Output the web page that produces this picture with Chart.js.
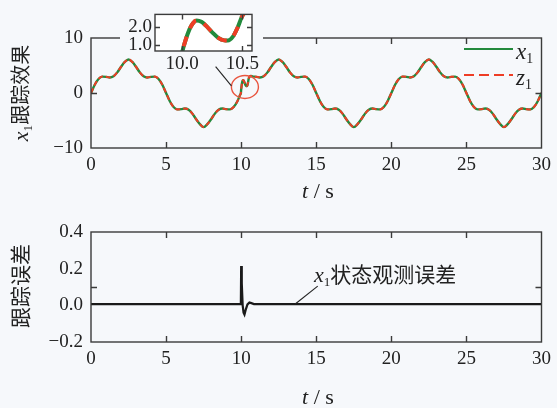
<!DOCTYPE html>
<html>
<head>
<meta charset="utf-8">
<script src="https://cdn.jsdelivr.net/npm/chart.js@4.4.1/dist/chart.umd.min.js"></script>
<style>
  body { margin: 0; background: #f6f8fb; }
  #wrap { position: relative; width: 557px; height: 408px; background: #f6f8fb; font-family: "Liberation Serif", serif; color: #222; overflow: hidden; }
  canvas { position: absolute; }
  .lbl { position: absolute; white-space: nowrap; line-height: 1; }
  .cjk { font-family: "Noto Sans CJK SC", sans-serif; }
  sub { font-size: 60%; vertical-align: -0.3em; line-height: 0; }
  .ytitle { transform: translate(-50%, -50%) rotate(-90deg); }
  .center { transform: translate(-50%, -50%); }
</style>
</head>
<body>
<div id="wrap">
  <canvas id="topChart" width="557" height="200" style="left:0;top:0"></canvas>
  <canvas id="bottomChart" width="557" height="208" style="left:0;top:200px"></canvas>
  <canvas id="insetChart" width="143" height="72" style="left:120px;top:0"></canvas>

  <div class="lbl ytitle" style="left:21px;top:93px;font-size:22px"><i>x</i><sub>1</sub><span class="cjk" style="font-size:20px">跟踪效果</span></div>
  <div class="lbl center" style="left:318px;top:191px;font-size:22px"><i>t</i> / s</div>
  <div class="lbl" style="left:516px;top:40px;font-size:23px"><i>x</i><sub>1</sub></div>
  <div class="lbl" style="left:516px;top:66px;font-size:23px"><i>z</i><sub>1</sub></div>

  <div class="lbl ytitle cjk" style="left:19px;top:286px;font-size:21px">跟踪误差</div>
  <div class="lbl center" style="left:318px;top:397px;font-size:22px"><i>t</i> / s</div>
  <div class="lbl" style="left:314px;top:263px;font-size:22px"><i>x</i><sub>1</sub><span class="cjk" style="font-size:21px">状态观测误差</span></div>
</div>

<script>
// time axis (s), finer around the disturbance at t = 10 s
const tTop = [
  0, 0.25, 0.5, 0.75, 1, 1.25, 1.5, 1.75, 2, 2.25, 2.5, 2.75, 3, 3.25, 3.5, 3.75, 4, 4.25, 4.5, 4.75,
  5, 5.25, 5.5, 5.75, 6, 6.25, 6.5, 6.75, 7, 7.25, 7.5, 7.75, 8, 8.25, 8.5, 8.75, 9, 9.25, 9.5, 9.75,
  9.95, 9.98, 10, 10.03, 10.06, 10.09, 10.12, 10.16, 10.2, 10.25, 10.3, 10.35, 10.38, 10.42, 10.46, 10.5, 10.55, 10.65, 10.75, 11,
  11.25, 11.5, 11.75, 12, 12.25, 12.5, 12.75, 13, 13.25, 13.5, 13.75, 14, 14.25, 14.5, 14.75,
  15, 15.25, 15.5, 15.75, 16, 16.25, 16.5, 16.75, 17, 17.25, 17.5, 17.75, 18, 18.25, 18.5, 18.75, 19, 19.25, 19.5, 19.75,
  20, 20.25, 20.5, 20.75, 21, 21.25, 21.5, 21.75, 22, 22.25, 22.5, 22.75, 23, 23.25, 23.5, 23.75, 24, 24.25, 24.5, 24.75,
  25, 25.25, 25.5, 25.75, 26, 26.25, 26.5, 26.75, 27, 27.25, 27.5, 27.75, 28, 28.25, 28.5, 28.75, 29, 29.25, 29.5, 29.75, 30
];

// x1 state
const x1Values = [
  0, 1.49, 2.55, 2.98, 2.94, 2.83, 3.05, 3.75, 4.76, 5.65, 6.1, 5.65, 4.76, 3.75, 3.05, 2.83, 2.94, 2.98, 2.55, 1.49,
  0, -1.49, -2.55, -2.98, -2.94, -2.83, -3.05, -3.75, -4.76, -5.65, -6.2, -5.65, -4.76, -3.75, -3.05, -2.83, -2.94, -2.98, -2.55, -1.49,
  -0.23, -0.05, 0.6, 1.3, 1.85, 2.2, 2.35, 2.28, 2.05, 1.7, 1.4, 1.26, 1.25, 1.45, 1.95, 2.6, 2.95, 3.1, 3.02, 2.94,
  2.83, 3.05, 3.75, 4.76, 5.65, 6.1, 5.65, 4.76, 3.75, 3.05, 2.83, 2.94, 2.98, 2.55, 1.49,
  0, -1.49, -2.55, -2.98, -2.94, -2.83, -3.05, -3.75, -4.76, -5.65, -6.2, -5.65, -4.76, -3.75, -3.05, -2.83, -2.94, -2.98, -2.55, -1.49,
  0, 1.49, 2.55, 2.98, 2.94, 2.83, 3.05, 3.75, 4.76, 5.65, 6.1, 5.65, 4.76, 3.75, 3.05, 2.83, 2.94, 2.98, 2.55, 1.49,
  0, -1.49, -2.55, -2.98, -2.94, -2.83, -3.05, -3.75, -4.76, -5.65, -6.2, -5.65, -4.76, -3.75, -3.05, -2.83, -2.94, -2.98, -2.55, -1.49, 0
];

// observer estimate z1 lies on top of x1 at this scale
const z1Values = x1Values;

// x1 observation error
const tErr = [0, 9.98, 10.0, 10.04, 10.1, 10.16, 10.22, 10.3, 10.42, 10.55, 10.68, 10.85, 11, 30];
const errValues = [0.007, 0.007, 0.214, 0.12, 0.0, -0.04, -0.05, -0.025, 0.005, 0.015, 0.012, 0.007, 0.007, 0.007];

const xTicks = [0, 5, 10, 15, 20, 25, 30];
const topYTicks = [-10, 0, 10];
const bottomYTicks = [-0.2, 0.0, 0.2, 0.4];
const insetXTicks = [10.0, 10.5];
const insetYTicks = [1.0, 2.0];

const green = "#238a3c";
const red = "#ee3d25";
const axisColor = "#3b3b3b";
const bg = "#f6f8fb";
const tickFont = { family: "Liberation Serif", size: 19 };

const toPts = (xs, ys) => xs.map((x, i) => ({ x: x, y: ys[i] }));
const fmt = (v, d) => Number(v).toFixed(d).replace("-", "\u2212");

// box + inward tick marks
const frame = {
  id: "frame",
  beforeDraw(chart, args, opts) {
    if (!opts.fill) return;
    const ctx = chart.ctx;
    const a = chart.chartArea;
    ctx.save();
    ctx.fillStyle = opts.fill;
    ctx.fillRect(0, 0, chart.width, a.bottom + 2);
    ctx.fillStyle = "#ffffff";
    ctx.fillRect(a.left, a.top, a.width, a.height);
    ctx.restore();
  },
  afterDatasetsDraw(chart, args, opts) {
    const { ctx, chartArea: a, scales } = chart;
    const len = opts.len || 5;
    ctx.save();
    ctx.strokeStyle = axisColor;
    ctx.lineWidth = opts.lw || 1.4;
    ctx.beginPath();
    (opts.x || []).forEach(v => {
      const px = Math.round(scales.x.getPixelForValue(v)) + 0.5;
      ctx.moveTo(px, a.bottom); ctx.lineTo(px, a.bottom - len);
      ctx.moveTo(px, a.top); ctx.lineTo(px, a.top + len);
    });
    (opts.y || []).forEach(v => {
      const py = Math.round(scales.y.getPixelForValue(v)) + 0.5;
      ctx.moveTo(a.left, py); ctx.lineTo(a.left + len, py);
      ctx.moveTo(a.right, py); ctx.lineTo(a.right - len, py);
    });
    ctx.stroke();
    ctx.strokeRect(a.left, a.top, a.width, a.height);
    ctx.restore();
  }
};

// legend lines and the circled detail on the top chart
const topDecor = {
  id: "topDecor",
  afterDraw(chart) {
    const { ctx, scales: { x, y } } = chart;
    ctx.save();
    ctx.lineWidth = 2.2;
    ctx.strokeStyle = green;
    ctx.beginPath(); ctx.moveTo(464, 49); ctx.lineTo(513, 49); ctx.stroke();
    ctx.strokeStyle = red;
    ctx.setLineDash([10, 5]);
    ctx.beginPath(); ctx.moveTo(464, 75); ctx.lineTo(513, 75); ctx.stroke();
    ctx.setLineDash([]);
    // ellipse round the disturbance
    const cx = x.getPixelForValue(10.25), cy = y.getPixelForValue(1.1);
    ctx.strokeStyle = "#e9553f";
    ctx.lineWidth = 1.4;
    ctx.beginPath(); ctx.ellipse(cx, cy, 13.5, 11.5, 0, 0, Math.PI * 2); ctx.stroke();
    ctx.strokeStyle = "#222";
    ctx.lineWidth = 1.1;
    ctx.beginPath();
    ctx.moveTo(x.getPixelForValue(8.3), y.getPixelForValue(4.8));
    ctx.lineTo(x.getPixelForValue(9.35), y.getPixelForValue(1.3));
    ctx.stroke();
    ctx.restore();
  }
};

const bottomDecor = {
  id: "bottomDecor",
  afterDraw(chart) {
    const { ctx, scales: { x, y } } = chart;
    ctx.save();
    ctx.strokeStyle = "#222";
    ctx.lineWidth = 1.1;
    ctx.beginPath();
    ctx.moveTo(x.getPixelForValue(13.6), y.getPixelForValue(0.007));
    ctx.lineTo(x.getPixelForValue(15.1), y.getPixelForValue(0.105));
    ctx.stroke();
    ctx.restore();
  }
};

function axisX(min, max, ticks, height, pad, decimals) {
  return {
    type: "linear", min: min, max: max,
    grid: { display: false, drawTicks: false }, border: { display: false },
    afterBuildTicks: s => { s.ticks = ticks.map(v => ({ value: v })); },
    afterFit: s => { s.height = height; },
    ticks: { color: "#222", font: tickFont, padding: pad, maxRotation: 0, autoSkip: false,
             callback: v => fmt(v, decimals) }
  };
}
function axisY(min, max, ticks, width, pad, decimals) {
  return {
    type: "linear", min: min, max: max,
    grid: { display: false, drawTicks: false }, border: { display: false },
    afterBuildTicks: s => { s.ticks = ticks.map(v => ({ value: v })); },
    afterFit: s => { s.width = width; },
    ticks: { color: "#222", font: tickFont, padding: pad, autoSkip: false,
             callback: v => fmt(v, decimals) }
  };
}

const baseOpts = {
  responsive: false,
  animation: false,
  events: [],
  plugins: { legend: { display: false }, tooltip: { enabled: false } },
  elements: { point: { radius: 0 } }
};

// dataset 0 is painted last, so the dashed z1 goes first to sit on top of x1
new Chart(document.getElementById("topChart"), {
  type: "line",
  data: {
    datasets: [
      { label: "z1", data: toPts(tTop, z1Values), borderColor: red, borderWidth: 2, borderDash: [5, 3], cubicInterpolationMode: "monotone" },
      { label: "x1", data: toPts(tTop, x1Values), borderColor: green, borderWidth: 2.4, cubicInterpolationMode: "monotone" }
    ]
  },
  options: Object.assign({}, baseOpts, {
    layout: { padding: { top: 38, right: 12, left: 0, bottom: 0 } },
    scales: { x: axisX(0, 30, xTicks, 52, 6, 0), y: axisY(-10, 10, topYTicks, 91, 8, 0) },
    plugins: Object.assign({}, baseOpts.plugins, { frame: { x: [5, 10, 15, 20, 25], y: [0], len: 6 } })
  }),
  plugins: [frame, topDecor]
});

new Chart(document.getElementById("bottomChart"), {
  type: "line",
  data: {
    datasets: [
      { label: "e1", data: toPts(tErr, errValues), borderColor: "#1a1a1a", borderWidth: 2.2, tension: 0 }
    ]
  },
  options: Object.assign({}, baseOpts, {
    layout: { padding: { top: 32, right: 12, left: 0, bottom: 0 } },
    scales: { x: axisX(0, 30, xTicks, 66, 6, 0), y: axisY(-0.2, 0.4, bottomYTicks, 91, 8, 1) },
    plugins: Object.assign({}, baseOpts.plugins, { frame: { x: [5, 10, 15, 20, 25], y: [0.1], len: 6 } })
  }),
  plugins: [frame, bottomDecor]
});

new Chart(document.getElementById("insetChart"), {
  type: "line",
  data: {
    datasets: [
      { label: "z1", data: toPts(tTop, z1Values), borderColor: red, borderWidth: 4, borderDash: [10, 9], cubicInterpolationMode: "monotone" },
      { label: "x1", data: toPts(tTop, x1Values), borderColor: green, borderWidth: 4, cubicInterpolationMode: "monotone" }
    ]
  },
  options: Object.assign({}, baseOpts, {
    layout: { padding: { top: 7, right: 11, left: 0, bottom: 0 } },
    scales: { x: axisX(9.775, 10.58, insetXTicks, 21, 2, 1), y: axisY(0.68, 2.68, insetYTicks, 35, 3, 1) },
    plugins: Object.assign({}, baseOpts.plugins, { frame: { x: insetXTicks, y: insetYTicks, len: 5, fill: bg } })
  }),
  plugins: [frame]
});
</script>
</body>
</html>
